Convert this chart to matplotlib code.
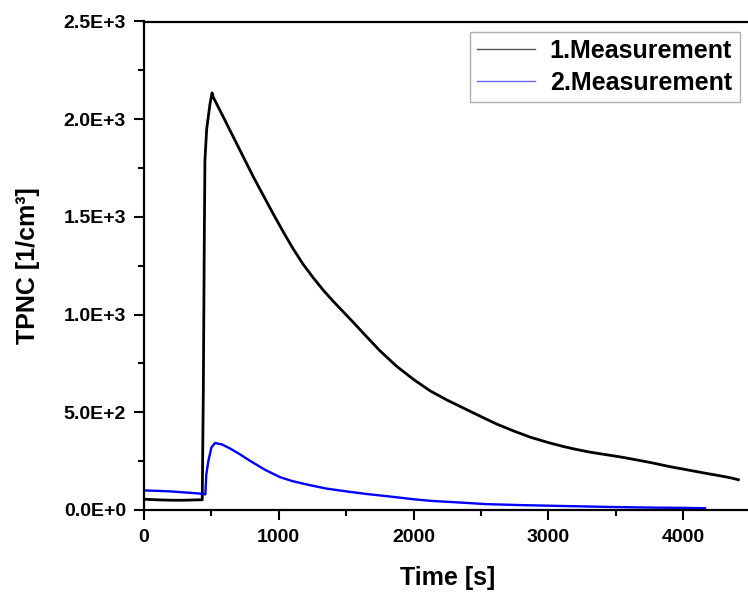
import math
import matplotlib
matplotlib.use("Agg")
import matplotlib.pyplot as plt
from matplotlib.ticker import MultipleLocator, FuncFormatter

plt.rcParams['font.family'] = ['Liberation Sans', 'DejaVu Sans']
plt.rcParams['font.weight'] = 'bold'

# Series 1 (black)
t1 = [0, 100, 200, 300, 400, 432, 440, 448, 452, 465, 490, 505, 514, 560, 662, 811,
      959, 1040, 1108, 1180, 1256, 1330, 1404, 1553, 1627, 1750, 1875, 2000, 2122, 2250,
      2369, 2500, 2616, 2740, 2864, 3000, 3111, 3200, 3309, 3420, 3531, 3650, 3778,
      3900, 4026, 4150, 4273, 4350, 4409]
v1 = [55, 52, 50, 50, 52, 52, 600, 1450, 1790, 1950, 2080, 2135, 2112, 2050, 1910, 1705,
      1515, 1415, 1335, 1258, 1188, 1125, 1068, 960, 905, 815, 735, 668, 610, 562,
      522, 478, 440, 405, 373, 345, 325, 311, 296, 284, 272, 257, 240,
      222, 206, 190, 175, 165, 155]

# Series 2 (blue)
t2 = [0, 100, 200, 300, 400, 455, 462, 477, 500, 527, 580, 638, 700, 786, 900, 1009,
      1100, 1231, 1350, 1504, 1650, 1825, 2000, 2122, 2300, 2542, 2800, 3000, 3284,
      3500, 3800, 4000, 4162]
v2 = [100, 98, 95, 90, 85, 80, 180, 249, 320, 343, 335, 315, 290, 252, 205, 168,
      148, 127, 110, 95, 82, 69, 55, 47, 40, 30, 25, 22, 18,
      15, 12, 11, 9]

labels = ['1.Measurement', '2.Measurement']

W, H = 748, 592
fig = plt.figure(figsize=(W / 100, H / 100), dpi=100)
x0, x1 = 144, 750.6
y0, y1 = 510, 21.5
ax = fig.add_axes([x0 / W, (H - y0) / H, (x1 - x0) / W, (y0 - y1) / H])

ax.plot(t1, v1, color='black', lw=2.0, label=labels[0])
ax.plot(t2, v2, color='#0000ff', lw=1.7, label=labels[1])

ax.set_xlim(0, 4500)
ax.set_ylim(0, 2500)
ax.xaxis.set_major_locator(MultipleLocator(1000))
ax.xaxis.set_minor_locator(MultipleLocator(500))
ax.yaxis.set_major_locator(MultipleLocator(500))
ax.yaxis.set_minor_locator(MultipleLocator(250))

def sci(v, pos):
    if v == 0:
        return '0.0E+0'
    e = int(math.floor(math.log10(abs(v))))
    m = v / 10 ** e
    return f'{m:.1f}E+{e}'

ax.yaxis.set_major_formatter(FuncFormatter(sci))
ax.tick_params(axis='both', which='major', direction='out', length=7, width=1.5,
               labelsize=14)
ax.tick_params(axis='x', which='major', pad=7)
ax.tick_params(axis='y', which='major', pad=6)
ax.tick_params(axis='both', which='minor', direction='out', length=4, width=1.5)
ax.tick_params(top=False, right=False, which='both')
for lab in ax.get_xticklabels() + ax.get_yticklabels():
    lab.set_fontweight('bold')
for s in ax.spines.values():
    s.set_linewidth(1.6)

ax.set_xlabel('Time [s]', fontsize=18, fontweight='bold', labelpad=14)
ax.set_ylabel('TPNC [1/cm³]', fontsize=18, fontweight='bold', labelpad=17)

leg = ax.legend(loc='upper right', bbox_to_anchor=(739.5 / W, (H - 31.5) / H),
                bbox_transform=fig.transFigure, frameon=True, borderaxespad=0,
                fancybox=False, edgecolor='#999999', handlelength=2.3,
                handletextpad=0.6, borderpad=0.3, labelspacing=0.3,
                prop={'weight': 'bold', 'size': 18})
leg.get_frame().set_linewidth(1.0)
for ln in leg.get_lines():
    ln.set_linewidth(1.0)
leg.get_lines()[0].set_color('#555555')
leg.get_lines()[1].set_color('#6666ff')

fig.savefig('out.png', dpi=100)
